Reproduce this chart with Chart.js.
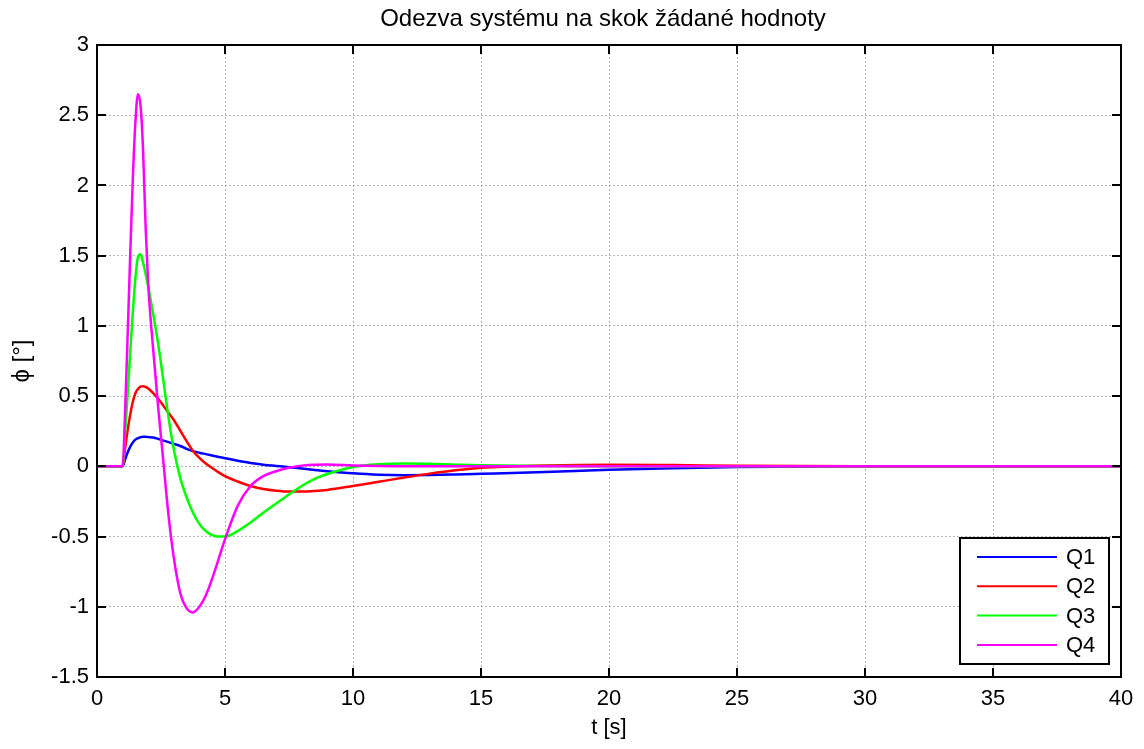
<!DOCTYPE html>
<html>
<head>
<meta charset="utf-8">
<title>Odezva systému</title>
<script src="https://cdn.jsdelivr.net/npm/chart.js@4.4.1/dist/chart.umd.min.js"></script>
<style>
  html, body { margin: 0; padding: 0; background: #fff; }
  #wrap { width: 1144px; height: 749px; }
</style>
</head>
<body>
<div id="wrap"><canvas id="stepChart" width="1144" height="749"></canvas></div>
<script>
const chartTitle = 'Odezva systému na skok žádané hodnoty';
const xTitle = 't [s]';
const yTitle = 'ϕ [°]';
const seriesNames = ['Q1', 'Q2', 'Q3', 'Q4'];
const seriesColors = ['#0000ff', '#ff0000', '#00ff00', '#ff00ff'];

const time = [0, 1, 1.1, 1.2, 1.3, 1.4, 1.5, 1.6, 1.7, 1.8, 1.9, 2.0,
    2.2, 2.4, 2.6, 2.8, 3.0, 3.25, 3.5, 3.75, 4.0, 4.25, 4.5, 4.75, 5.0,
    5.5, 6, 6.5, 7, 7.5, 8, 8.5, 9, 10, 11, 12, 13, 14, 15, 17.5, 20, 22.5, 25, 30, 35, 40];

const q1 = [0, 0, 0.05, 0.1, 0.14, 0.17, 0.19, 0.2, 0.207, 0.21, 0.21, 0.208,
    0.205, 0.195, 0.183, 0.172, 0.16, 0.145, 0.124, 0.108, 0.097, 0.087, 0.077, 0.067, 0.058,
    0.04, 0.024, 0.012, 0.003, -0.006, -0.016, -0.026, -0.035, -0.05, -0.06, -0.063, -0.062, -0.058, -0.053,
    -0.04, -0.025, -0.013, -0.005, 0.001, 0.001, 0];

const q2 = [0, 0, 0.13, 0.26, 0.37, 0.46, 0.52, 0.55, 0.567, 0.57, 0.565, 0.555,
    0.52, 0.48, 0.43, 0.38, 0.33, 0.255, 0.18, 0.11, 0.06, 0.02, -0.012, -0.043, -0.07,
    -0.108, -0.14, -0.162, -0.174, -0.18, -0.18, -0.176, -0.168, -0.14, -0.11, -0.08, -0.052, -0.028, -0.01,
    0.006, 0.012, 0.009, 0.004, 0, 0, 0];

const q3 = [0, 0, 0.25, 0.52, 0.82, 1.1, 1.34, 1.49, 1.51, 1.45, 1.37, 1.28,
    1.08, 0.86, 0.6, 0.34, 0.12, -0.08, -0.22, -0.33, -0.41, -0.46, -0.49, -0.5, -0.5,
    -0.46, -0.4, -0.33, -0.265, -0.2, -0.14, -0.09, -0.055, -0.005, 0.015, 0.02, 0.018, 0.012, 0.007,
    0.002, 0, 0, 0, 0, 0, 0];

const q4 = [0, 0, 0.4, 0.95, 1.52, 2.05, 2.45, 2.65, 2.57, 2.25, 1.7, 1.3,
    0.82, 0.4, 0.02, -0.36, -0.65, -0.9, -1.01, -1.04, -1.0, -0.92, -0.8, -0.66, -0.52,
    -0.28, -0.14, -0.07, -0.035, -0.01, 0.005, 0.012, 0.013, 0.006, 0.002, 0, 0, 0, 0,
    0, 0, 0, 0, 0, 0, 0];

const xTicks = [0, 5, 10, 15, 20, 25, 30, 35, 40];
const yTicks = [-1.5, -1, -0.5, 0, 0.5, 1, 1.5, 2, 2.5, 3];

const FONT = '"Liberation Sans", Arial, Helvetica, sans-serif';
const allSeries = [q1, q2, q3, q4];

const datasets = allSeries.map((vals, i) => ({
    label: seriesNames[i],
    data: time.map((t, k) => ({ x: t, y: vals[k] })),
    borderColor: seriesColors[i],
    backgroundColor: seriesColors[i],
    borderWidth: 2.5,
    pointRadius: 0,
    cubicInterpolationMode: 'monotone',
    fill: false,
    order: allSeries.length - i
}));

// box, inner tick marks, title and legend drawn over the plot
const matlabFrame = {
    id: 'matlabFrame',
    afterDatasetsDraw(chart) {
        const { ctx, chartArea: a, scales } = chart;
        const sx = scales.x, sy = scales.y;
        ctx.save();
        ctx.strokeStyle = '#000';
        ctx.lineWidth = 2;
        ctx.beginPath();
        xTicks.forEach(v => {
            const px = Math.round(sx.getPixelForValue(v));
            ctx.moveTo(px, a.bottom); ctx.lineTo(px, a.bottom - 9);
            ctx.moveTo(px, a.top); ctx.lineTo(px, a.top + 9);
        });
        yTicks.forEach(v => {
            const py = Math.round(sy.getPixelForValue(v));
            ctx.moveTo(a.left, py); ctx.lineTo(a.left + 9, py);
            ctx.moveTo(a.right, py); ctx.lineTo(a.right - 9, py);
        });
        ctx.stroke();
        ctx.strokeRect(a.left, a.top, a.right - a.left, a.bottom - a.top);

        ctx.fillStyle = '#000';
        ctx.font = '24px ' + FONT;
        ctx.textAlign = 'center';
        ctx.textBaseline = 'middle';
        ctx.fillText(chartTitle, 603, 19);

        // legend box in the lower right corner
        const bw = 149, bh = 126;
        const bx = a.right - 12 - bw, by = a.bottom - 13 - bh;
        ctx.fillStyle = '#fff';
        ctx.fillRect(bx, by, bw, bh);
        ctx.strokeRect(bx, by, bw, bh);
        ctx.font = '22px ' + FONT;
        ctx.textAlign = 'left';
        chart.data.datasets.forEach((ds, i) => {
            const ry = by + 19 + i * 29.3;
            ctx.strokeStyle = ds.borderColor;
            ctx.lineWidth = 2;
            ctx.beginPath();
            ctx.moveTo(bx + 17, ry); ctx.lineTo(bx + 97, ry);
            ctx.stroke();
            ctx.fillStyle = '#000';
            ctx.fillText(ds.label, bx + 106, ry + 1);
        });
        ctx.restore();
    }
};

new Chart(document.getElementById('stepChart'), {
    type: 'line',
    data: { datasets: datasets },
    plugins: [matlabFrame],
    options: {
        responsive: false,
        animation: false,
        devicePixelRatio: 1,
        layout: { padding: { top: 45, right: 23, left: 0, bottom: 0 } },
        plugins: {
            legend: { display: false },
            tooltip: { enabled: false },
            title: { display: false }
        },
        scales: {
            x: {
                type: 'linear',
                min: 0, max: 40,
                afterFit: s => { s.height = 72; },
                afterBuildTicks: s => { s.ticks = xTicks.map(v => ({ value: v })); },
                ticks: { color: '#000', padding: 9, font: { size: 22, family: FONT }, maxRotation: 0,
                         callback: v => String(v) },
                grid: { color: '#b4b4b4', lineWidth: 1, drawTicks: false },
                border: { display: false, dash: [2, 2] },
                title: { display: true, text: xTitle, color: '#000', font: { size: 22, family: FONT }, padding: { top: 0, bottom: 8 } }
            },
            y: {
                type: 'linear',
                min: -1.5, max: 3,
                afterFit: s => { s.width = 97; },
                afterBuildTicks: s => { s.ticks = yTicks.map(v => ({ value: v })); },
                ticks: { color: '#000', padding: 8, font: { size: 22, family: FONT },
                         callback: v => String(v) },
                grid: { color: '#b4b4b4', lineWidth: 1, drawTicks: false },
                border: { display: false, dash: [2, 2] },
                title: { display: true, text: yTitle, color: '#000', font: { size: 24, family: FONT }, padding: { top: 8, bottom: 0 } }
            }
        }
    }
});
</script>
</body>
</html>
